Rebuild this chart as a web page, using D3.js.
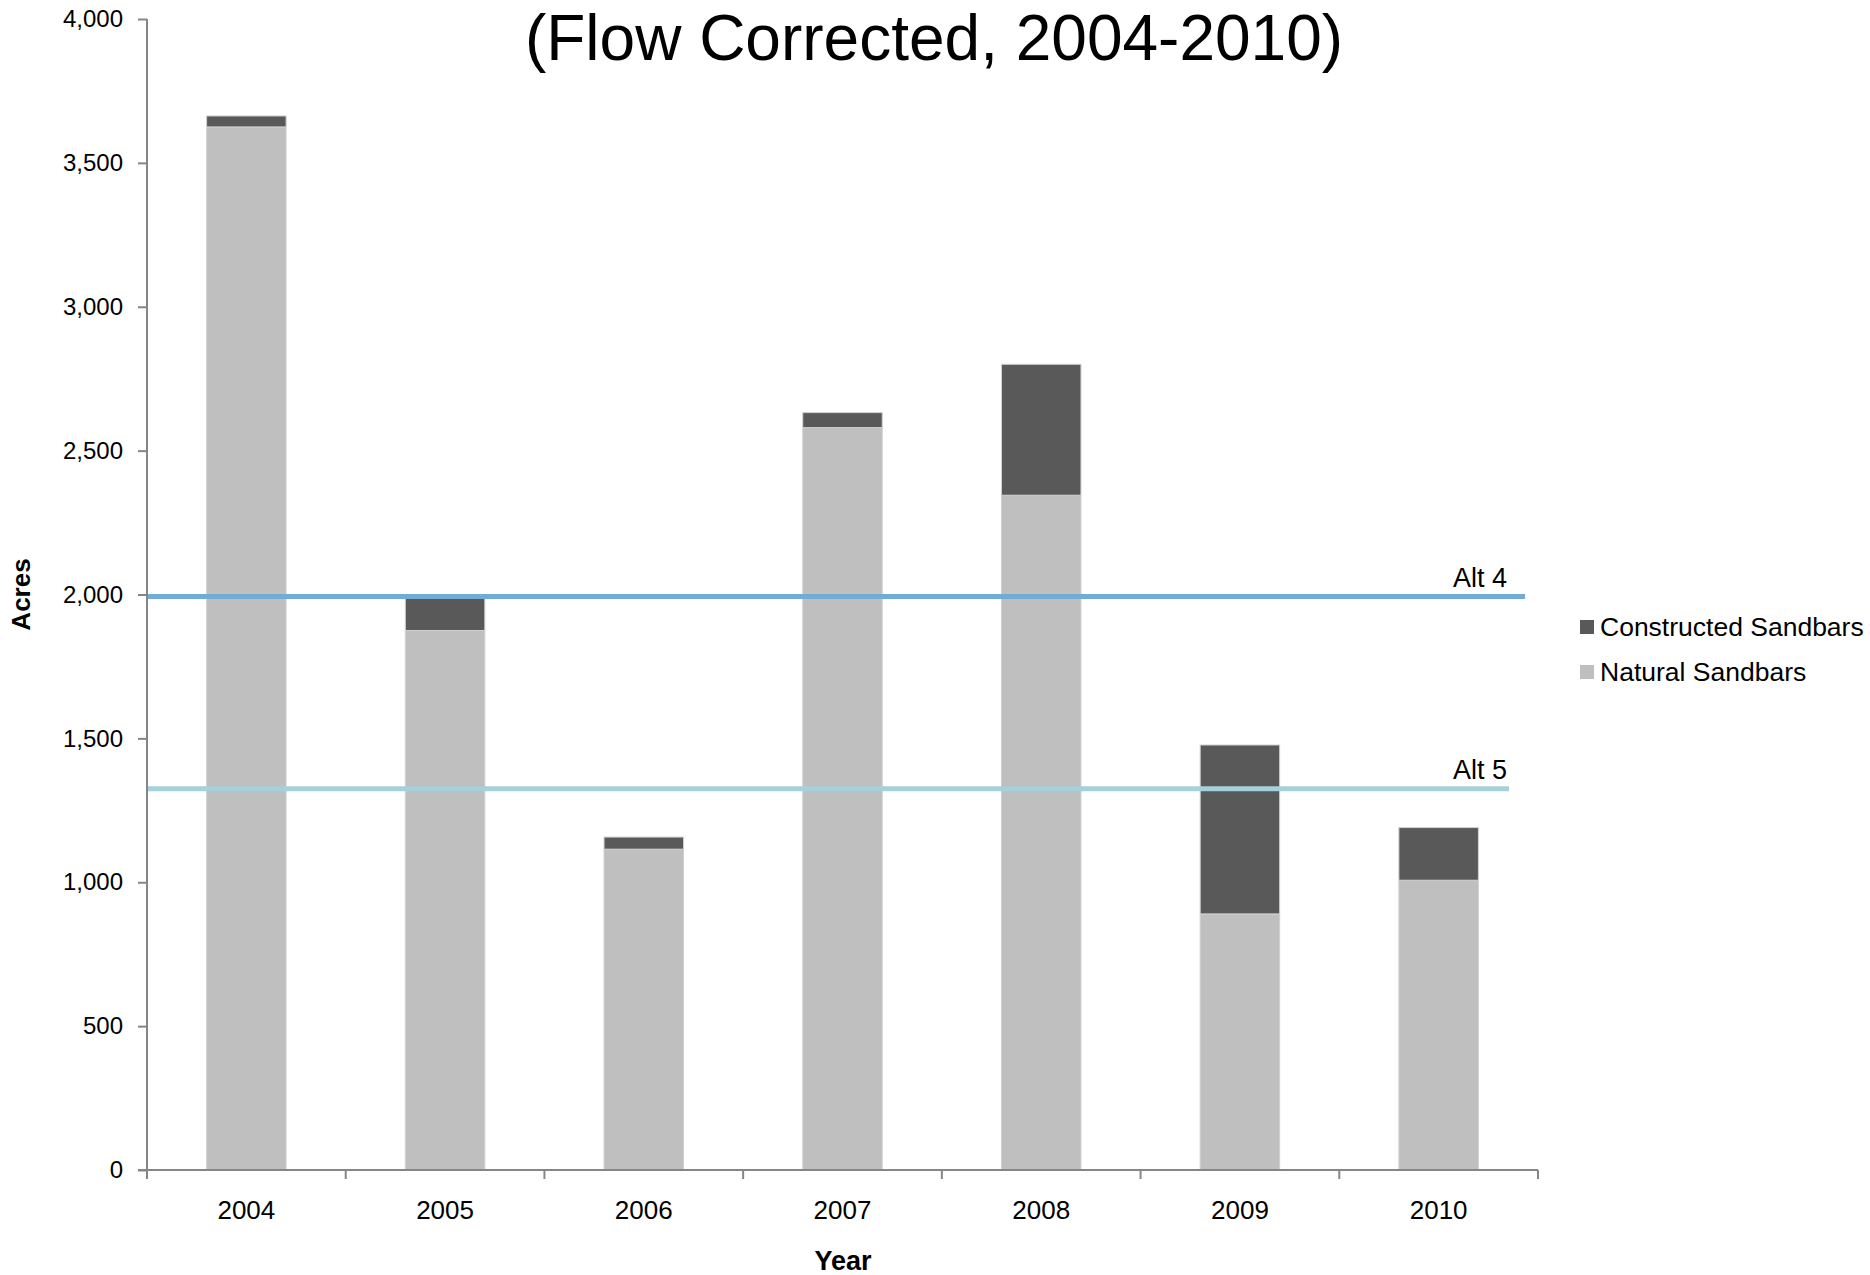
<!DOCTYPE html>
<html>
<head>
<meta charset="utf-8">
<script src="https://cdn.jsdelivr.net/npm/d3@7/dist/d3.min.js"></script>
<style>
  html, body { margin: 0; padding: 0; background: #fff; }
  svg { display: block; font-family: "Liberation Sans", Arial, sans-serif; }
</style>
</head>
<body>
<svg id="chart" width="1870" height="1275"></svg>
<script>
// Sandbar acreage by year (acres)
const years = ["2004", "2005", "2006", "2007", "2008", "2009", "2010"];
const naturalSandbars = [3625, 1875, 1115, 2580, 2345, 890, 1007];
const constructedSandbars = [38, 115, 42, 52, 455, 587, 183];
const seriesNames = ["Natural Sandbars", "Constructed Sandbars"];
const seriesColors = ["#bfbfbf", "#595959"];
const targetNames = ["Alt 4", "Alt 5"];
const targetValues = [1993, 1325];
const targetColors = ["#72abd4", "#a6d0dc"];
const yTicks = [0, 500, 1000, 1500, 2000, 2500, 3000, 3500, 4000];
const title = "(Flow Corrected, 2004-2010)";

const svg = d3.select("#chart");
const margin = { left: 147, right: 332, top: 19, bottom: 105 };
const W = 1870, H = 1275;
const plotRight = W - margin.right;
const plotBottom = H - margin.bottom;

const x = d3.scaleBand().domain(years)
  .range([margin.left, plotRight])
  .paddingInner(0.6).paddingOuter(0.3);
const y = d3.scaleLinear().domain([0, 4000]).range([plotBottom, margin.top]);

const rows = years.map((yr, i) => ({
  year: yr,
  "Natural Sandbars": naturalSandbars[i],
  "Constructed Sandbars": constructedSandbars[i]
}));
const stacked = d3.stack().keys(seriesNames)(rows);
const color = d3.scaleOrdinal().domain(seriesNames).range(seriesColors);

// stacked bars
svg.append("g").selectAll("g")
  .data(stacked).join("g")
  .attr("fill", d => color(d.key))
  .selectAll("rect")
  .data(d => d).join("rect")
  .attr("x", d => x(d.data.year))
  .attr("width", x.bandwidth())
  .attr("y", d => y(d[1]))
  .attr("height", d => y(d[0]) - y(d[1]))
  .attr("stroke", "#d0d0d0")
  .attr("stroke-width", 1);

// target lines
const lineEnds = [1525, 1509];
targetNames.forEach((name, i) => {
  const yy = y(targetValues[i]);
  svg.append("line")
    .attr("x1", margin.left).attr("x2", lineEnds[i])
    .attr("y1", yy).attr("y2", yy)
    .attr("stroke", targetColors[i]).attr("stroke-width", 5);
  svg.append("text")
    .attr("x", 1507).attr("y", yy - 10)
    .attr("text-anchor", "end")
    .attr("font-size", 27).attr("fill", "#000")
    .text(name);
});

// axes
const axisColor = "#868686";
const yAxis = svg.append("g")
  .attr("transform", `translate(${margin.left},0)`)
  .call(d3.axisLeft(y).tickValues(yTicks).tickSize(9).tickPadding(15)
    .tickFormat(d3.format(",")));
const xAxis = svg.append("g")
  .attr("transform", `translate(0,${plotBottom})`)
  .call(d3.axisBottom(x).tickSize(0).tickPadding(31));

// category boundary ticks on the x axis
const step = x.step();
const boundaries = d3.range(years.length + 1).map(i => margin.left + i * step);
xAxis.selectAll("line.bound").data(boundaries).join("line")
  .attr("class", "bound")
  .attr("x1", d => d).attr("x2", d => d)
  .attr("y1", 0).attr("y2", 9)
  .attr("stroke", axisColor).attr("stroke-width", 2);

[yAxis, xAxis].forEach(g => {
  g.select(".domain").attr("stroke", axisColor).attr("stroke-width", 2);
  g.selectAll(".tick line").attr("stroke", axisColor).attr("stroke-width", 2);
  g.selectAll("text").attr("fill", "#000")
    .attr("font-family", "Liberation Sans, Arial, sans-serif");
});
yAxis.selectAll("text").attr("font-size", 24);
xAxis.selectAll("text").attr("font-size", 26);
yAxis.select(".domain").attr("d", `M0,${plotBottom}V${margin.top}`);
yAxis.selectAll(".tick line").attr("x1", 0);
xAxis.select(".domain").attr("d", `M${margin.left - 9},0H${plotRight}`);

// axis titles
svg.append("text")
  .attr("transform", `translate(30,${y(2000)}) rotate(-90)`)
  .attr("text-anchor", "middle")
  .attr("font-size", 26).attr("font-weight", "bold")
  .text("Acres");
svg.append("text")
  .attr("x", 843).attr("y", 1270)
  .attr("text-anchor", "middle")
  .attr("font-size", 27).attr("font-weight", "bold")
  .text("Year");

// title
svg.append("text")
  .attr("x", 934).attr("y", 60)
  .attr("text-anchor", "middle")
  .attr("font-size", 64)
  .text(title);

// legend
const legendItems = ["Constructed Sandbars", "Natural Sandbars"];
const legend = svg.append("g").selectAll("g")
  .data(legendItems).join("g")
  .attr("transform", (d, i) => `translate(1580,${627 + i * 45})`);
legend.append("rect")
  .attr("x", 0).attr("y", -7).attr("width", 14).attr("height", 14)
  .attr("fill", d => color(d));
legend.append("text")
  .attr("x", 20).attr("y", 0).attr("dy", "0.35em")
  .attr("font-size", 26.5)
  .text(d => d);
</script>
</body>
</html>
